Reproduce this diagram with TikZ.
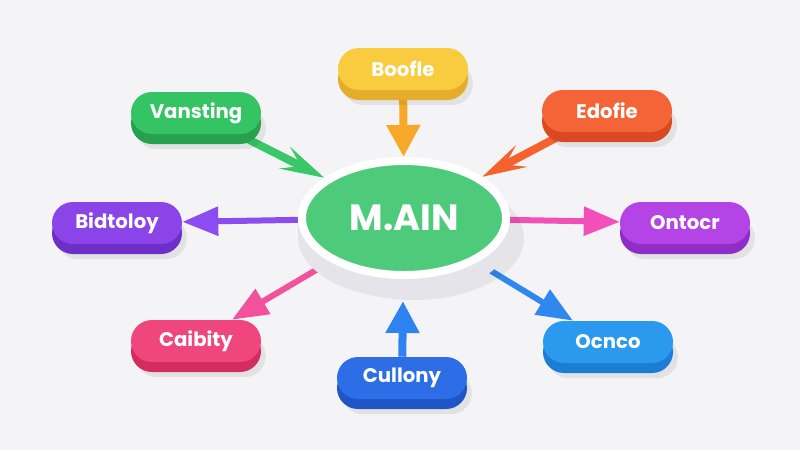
\documentclass[tikz,border=0pt]{standalone}
\usepackage{fontspec}
\newfontfamily\popfont{Poppins}
\usetikzlibrary{shapes.misc,shapes.geometric,shadows,arrows.meta}
\definecolor{bg}{RGB}{244,244,246}
\definecolor{hubgreen}{RGB}{78,203,122}
\definecolor{sidegray}{RGB}{228,228,234}
\definecolor{yeltop}{RGB}{249,204,63}
\definecolor{yelbase}{RGB}{228,173,42}
\definecolor{yelarrow}{RGB}{247,168,40}
\definecolor{grntop}{RGB}{53,196,100}
\definecolor{grnbase}{RGB}{39,161,80}
\definecolor{grnarrow}{RGB}{58,199,106}
\definecolor{orgtop}{RGB}{244,100,54}
\definecolor{orgbase}{RGB}{217,74,34}
\definecolor{orgarrow}{RGB}{245,98,46}
\definecolor{vlttop}{RGB}{139,68,232}
\definecolor{vltbase}{RGB}{109,47,199}
\definecolor{vltarrow}{RGB}{139,77,242}
\definecolor{pursetop}{RGB}{180,68,230}
\definecolor{pursebase}{RGB}{143,45,199}
\definecolor{pinkarrow}{RGB}{242,79,184}
\definecolor{rosetop}{RGB}{240,70,126}
\definecolor{rosebase}{RGB}{211,44,94}
\definecolor{rosearrow}{RGB}{242,81,156}
\definecolor{bluetop}{RGB}{45,109,230}
\definecolor{bluebase}{RGB}{31,85,196}
\definecolor{bluearrow}{RGB}{46,131,242}
\definecolor{skytop}{RGB}{43,153,238}
\definecolor{skybase}{RGB}{28,125,212}
\definecolor{skyarrow}{RGB}{47,136,240}
\pgfdeclarelayer{background}
\pgfsetlayers{background,main}
\tikzset{
  pill/.style n args={2}{rounded rectangle, minimum width=3.25cm, minimum height=1.05cm,
    inner sep=0pt, fill=#1, text=white, font=\popfont\bfseries\fontsize{14}{16}\selectfont,
    general shadow={fill=black, fill opacity=.07, shadow xshift=.12cm, shadow yshift=-.38cm},
    general shadow={fill=#2, shadow yshift=-.25cm}},
  hub/.style={ellipse, minimum width=5.1cm, minimum height=2.85cm, fill=hubgreen,
    draw=white, line width=.2cm, text=white, font=\popfont\bfseries\fontsize{26}{30}\selectfont},
  link/.style={draw=#1, line width=.15cm, -{Triangle[length=.9cm,width=.7cm]}},
  uplink/.style={draw=#1, line width=.2cm, -{Triangle[length=.8cm,width=.8cm]}},
  kink/.style={draw=#1, line width=.2cm, -{Stealth[length=1.1cm,width=.6cm,inset=.45cm]}},
  discside/.style={fill=sidegray}
}
\begin{document}
\begin{tikzpicture}[x=0.025cm,y=-0.025cm]
\begin{pgfonlayer}{background}
\fill[bg] (0,0) rectangle (800,450);
\end{pgfonlayer}
\fill[black,opacity=.06] (414,238) ellipse [x radius=110, y radius=62];
\foreach \d in {1,3,...,19}
  \fill[discside] (404,218+\d) ellipse [x radius=106, y radius=61];
\node[hub] (main) at (404,218) {M.AIN};

\node[pill={yeltop}{yelbase}] (boofle) at (403,69) {Boofle};
\node[pill={grntop}{grnbase}] (vansting) at (196,113) {Vansting};
\node[pill={orgtop}{orgbase}] (edofie) at (607,111) {Edofie};
\node[pill={vlttop}{vltbase}] (bidtoloy) at (117,223) {Bidtoloy};
\node[pill={pursetop}{pursebase}] (ontocr) at (685,223) {Ontocr};
\node[pill={rosetop}{rosebase}] (caibity) at (196,341) {Caibity};
\node[pill={bluetop}{bluebase}] (cullony) at (402,378) {Cullony};
\node[pill={skytop}{skybase}] (ocnco) at (608,342) {Ocnco};

\begin{pgfonlayer}{background}
\draw[uplink=yelarrow] (boofle) -- (main);
\draw[kink=grnarrow] (vansting) -- (main);
\draw[kink=orgarrow] (edofie) -- (main);
\draw[link=vltarrow] (main) -- (bidtoloy);
\draw[link=pinkarrow] (main) -- (ontocr);
\draw[link=rosearrow] (main) -- (caibity);
\draw[link=skyarrow] (main) -- (ocnco);
\draw[uplink=bluearrow, shorten >=.55cm] (cullony) -- (main);
\end{pgfonlayer}
\end{tikzpicture}
\end{document}
